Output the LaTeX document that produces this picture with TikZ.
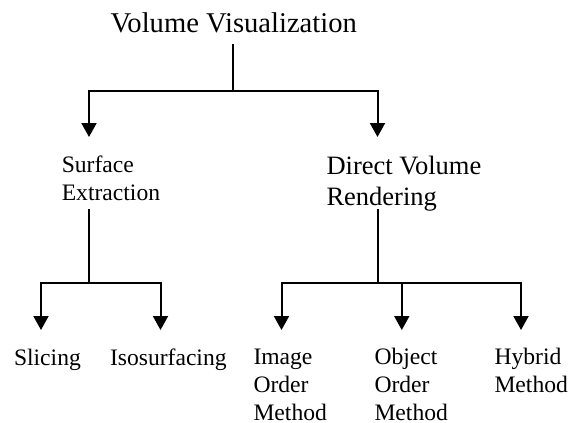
\documentclass[tikz,border=0pt]{standalone}
\usepackage{fontspec}
\setmainfont{Liberation Serif}
\usetikzlibrary{arrows.meta}
\begin{document}
\begin{tikzpicture}[x=1pt,y=-1pt,
  line width=2pt,
  lbl/.style={inner sep=0pt, outer sep=0pt, anchor=base west},
  arr/.style={-{Triangle[width=15pt,length=14pt]}}]
\useasboundingbox (0,0) rectangle (568,423);
% text
\node[lbl] (vv) at (110.5,32.3) {\fontsize{28.6}{33}\selectfont Volume Visualization};
\node[lbl] (se) at (61.8,172.3) {\fontsize{23.6}{28.4}\selectfont\vtop{\hbox{Surface}\hbox{Extraction}}};
\node[lbl] (dvr) at (326.5,174) {\fontsize{26.5}{31}\selectfont\vtop{\hbox{Direct Volume}\hbox{Rendering}}};
\node[lbl] (sl) at (14,365) {\fontsize{23.6}{28.4}\selectfont Slicing};
\node[lbl] (iso) at (110,365) {\fontsize{23.6}{28.4}\selectfont Isosurfacing};
\node[lbl] (io) at (253.5,364.5) {\fontsize{23.6}{28.2}\selectfont\vtop{\hbox{Image}\hbox{Order}\hbox{Method}}};
\node[lbl] (oo) at (374.5,364.5) {\fontsize{23.6}{28.2}\selectfont\vtop{\hbox{Object}\hbox{Order}\hbox{Method}}};
\node[lbl] (hm) at (494.5,364.5) {\fontsize{23.6}{28.2}\selectfont\vtop{\hbox{Hybrid}\hbox{Method}}};
% connector points
\coordinate (s0) at (233,44);
\coordinate (j0) at (233,91);
\coordinate (tse) at (89,137);
\coordinate (tdvr) at (377.5,137);
\coordinate (s1) at (89,209);
\coordinate (j1) at (89,283);
\coordinate (tsl) at (41,330);
\coordinate (tiso) at (160.5,330);
\coordinate (s2) at (377.5,209);
\coordinate (j2) at (377.5,283);
\coordinate (tio) at (281.5,330);
\coordinate (too) at (401.8,330);
\coordinate (thm) at (521,330);
% connectors
\draw (s0) -- (j0);
\draw[arr] (j0) -| (tse);
\draw[arr] (j0) -| (tdvr);
\draw (s1) -- (j1);
\draw[arr] (j1) -| (tsl);
\draw[arr] (j1) -| (tiso);
\draw (s2) -- (j2);
\draw[arr] (j2) -| (tio);
\draw[arr] (j2) -| (too);
\draw[arr] (j2) -| (thm);
\end{tikzpicture}
\end{document}
